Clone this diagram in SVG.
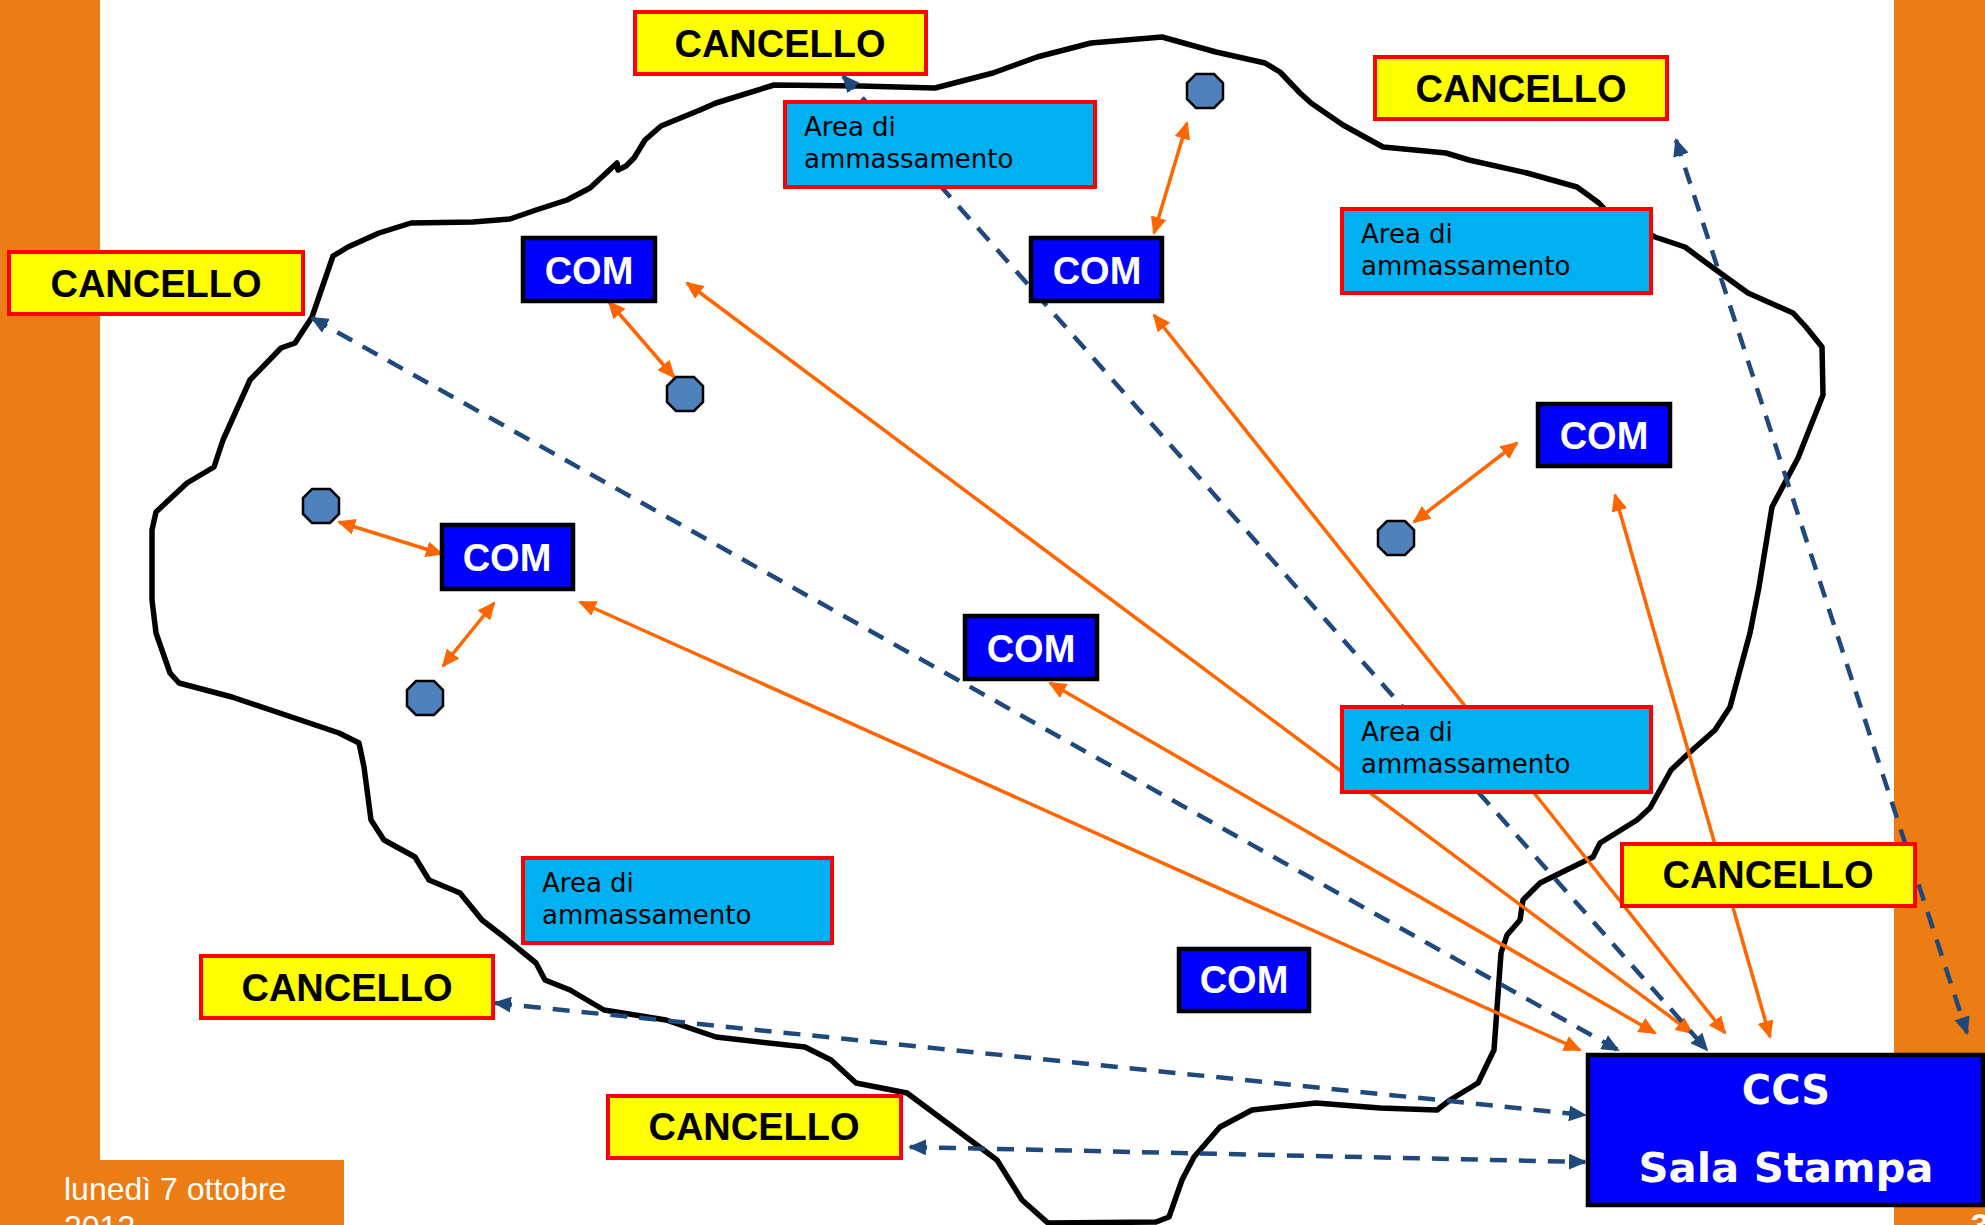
<svg xmlns="http://www.w3.org/2000/svg" width="1985" height="1225" viewBox="0 0 1985 1225">
<style>
.bar{fill:#EC7D15}
.blob{fill:none;stroke:#000;stroke-width:5.5;stroke-linejoin:round;stroke-linecap:round}
.or{fill:none;stroke:#FF6600;stroke-width:3.5;marker-start:url(#ao);marker-end:url(#ao)}
.bl{fill:none;stroke:#1F497D;stroke-width:4.5;stroke-dasharray:17 12;marker-start:url(#ab);marker-end:url(#ab)}
.gate rect{fill:#FFFF00;stroke:#FF0000;stroke-width:4}
.gate text{font-family:"Liberation Sans",Arial,sans-serif;font-weight:bold;font-size:38px;fill:#000;text-anchor:middle}
.com rect{fill:#0000FF;stroke:#000;stroke-width:4.5}
.com text{font-family:"Liberation Sans",Arial,sans-serif;font-weight:bold;font-size:38px;fill:#fff;text-anchor:middle}
.area rect{fill:#00B0F0;stroke:#FF0000;stroke-width:4}
.area text{font-family:"DejaVu Sans",Verdana,sans-serif;font-size:26px;fill:#000}
.oct{fill:#4F81BD;stroke:#000;stroke-width:2.5}
.ccs text{font-family:"DejaVu Sans",Verdana,sans-serif;font-weight:bold;font-size:40px;fill:#fff;text-anchor:middle}
.foot{font-family:"Liberation Sans",Arial,sans-serif;font-size:32px;fill:#fff}
</style>
<defs>
<marker id="ao" viewBox="0 0 18 16" refX="16" refY="8" markerWidth="18" markerHeight="16" markerUnits="userSpaceOnUse" orient="auto-start-reverse"><path d="M0,0 L18,8 L0,16 z" fill="#FF6600"/></marker>
<marker id="ab" viewBox="0 0 18 16" refX="16" refY="8" markerWidth="18" markerHeight="16" markerUnits="userSpaceOnUse" orient="auto-start-reverse"><path d="M0,0 L18,8 L0,16 z" fill="#1F497D"/></marker>
<polygon id="octa" points="-9,-17 9,-17 18,-8 18,8 9,17 -9,17 -18,8 -18,-8"/>
</defs>
<rect width="1985" height="1225" fill="#fff"/>
<g id="background">
<rect class="bar" x="0" y="0" width="100" height="1225"/>
<rect class="bar" x="0" y="1160" width="344" height="65"/>
<rect class="bar" x="1894" y="0" width="91" height="1225"/>
<text class="foot" x="64" y="1200">lunedì 7 ottobre</text>
<text class="foot" x="64" y="1238">2013</text>
<text class="foot" x="1971" y="1236" font-weight="bold">3</text>
</g>
<g id="area-outline">
<polygon class="blob" points="333,256 348,247 379,233 411,223 473,222 510,219 536,210 567,200 590,188 617,163 618,170 626,166 634,158 645,140 661,126 700,110 716,103 774,85 860,86 935,88 993,73 1037,57 1091,43 1162,37 1216,52 1265,63 1280,72 1300,93 1311,103 1343,125 1383,147 1446,153 1469,160 1527,173 1577,187 1599,203 1610,215 1655,237 1685,247 1712,267 1748,293 1793,313 1806,327 1822,347 1823,395 1798,458 1772,507 1759,587 1750,633 1730,707 1715,730 1689,753 1671,770 1650,808 1637,820 1600,843 1593,857 1540,883 1523,900 1520,920 1507,935 1501,953 1494,1050 1478,1083 1450,1100 1437,1110 1380,1108 1316,1103 1252,1110 1220,1127 1194,1157 1182,1180 1169,1217 1156,1222 1048,1223 1022,1200 997,1160 907,1093 856,1083 831,1060 805,1047 716,1037 666,1020 604,1010 570,990 545,980 536,963 504,937 482,920 460,893 429,880 415,857 384,840 371,820 364,767 359,743 339,733 232,697 179,683 170,673 156,633 152,600 152,530 156,512 187,483 214,467 223,440 232,420 250,380 281,348 295,343 312,317"/>
</g>
<g id="connectors">
<line class="or" x1="609" y1="302" x2="674" y2="377"/>
<line class="or" x1="1154" y1="233" x2="1187" y2="123"/>
<line class="or" x1="339" y1="522" x2="442" y2="554"/>
<line class="or" x1="494" y1="603" x2="443" y2="666"/>
<line class="or" x1="1414" y1="522" x2="1517" y2="443"/>
<line class="or" x1="580" y1="602" x2="1580" y2="1050"/>
<line class="or" x1="1050" y1="683" x2="1655" y2="1033"/>
<line class="or" x1="687" y1="283" x2="1692" y2="1033"/>
<line class="or" x1="1154" y1="315" x2="1725" y2="1033"/>
<line class="or" x1="1615" y1="495" x2="1770" y2="1037"/>
<line class="bl" x1="312" y1="318" x2="1618" y2="1050"/>
<line class="bl" x1="843" y1="76" x2="1707" y2="1050"/>
<line class="bl" x1="1676" y1="140" x2="1967" y2="1033"/>
<line class="bl" x1="495" y1="1003" x2="1585" y2="1115"/>
<line class="bl" x1="910" y1="1147" x2="1585" y2="1162"/>
</g>
<g id="oct1" class="oct"><use href="#octa" x="1205" y="91"/></g>
<g id="oct2" class="oct"><use href="#octa" x="685" y="394"/></g>
<g id="oct3" class="oct"><use href="#octa" x="321" y="506"/></g>
<g id="oct4" class="oct"><use href="#octa" x="425" y="698"/></g>
<g id="oct5" class="oct"><use href="#octa" x="1396" y="538"/></g>
<g id="area1" class="area"><rect x="785" y="102" width="310" height="85"/><text x="804" y="136">Area di</text><text x="804" y="168">ammassamento</text></g>
<g id="area2" class="area"><rect x="1342" y="209" width="309" height="84"/><text x="1361" y="243">Area di</text><text x="1361" y="275">ammassamento</text></g>
<g id="area3" class="area"><rect x="1342" y="707" width="309" height="85"/><text x="1361" y="741">Area di</text><text x="1361" y="773">ammassamento</text></g>
<g id="area4" class="area"><rect x="523" y="858" width="309" height="85"/><text x="542" y="892">Area di</text><text x="542" y="924">ammassamento</text></g>
<g id="gate1" class="gate"><rect x="635" y="12" width="291" height="62"/><text x="780" y="57">CANCELLO</text></g>
<g id="gate2" class="gate"><rect x="9" y="252" width="294" height="62"/><text x="156" y="297">CANCELLO</text></g>
<g id="gate3" class="gate"><rect x="1375" y="57" width="292" height="62"/><text x="1521" y="102">CANCELLO</text></g>
<g id="gate4" class="gate"><rect x="201" y="956" width="292" height="62"/><text x="347" y="1001">CANCELLO</text></g>
<g id="gate5" class="gate"><rect x="608" y="1096" width="293" height="62"/><text x="754" y="1140">CANCELLO</text></g>
<g id="gate6" class="gate"><rect x="1622" y="844" width="293" height="62"/><text x="1768" y="888">CANCELLO</text></g>
<g id="com1" class="com"><rect x="523" y="238" width="132" height="63"/><text x="589" y="284">COM</text></g>
<g id="com2" class="com"><rect x="1031" y="238" width="131" height="63"/><text x="1097" y="284">COM</text></g>
<g id="com3" class="com"><rect x="1538" y="404" width="132" height="62"/><text x="1604" y="449">COM</text></g>
<g id="com4" class="com"><rect x="442" y="525" width="131" height="64"/><text x="507" y="571">COM</text></g>
<g id="com5" class="com"><rect x="965" y="616" width="132" height="63"/><text x="1031" y="662">COM</text></g>
<g id="com6" class="com"><rect x="1179" y="949" width="130" height="62"/><text x="1244" y="993">COM</text></g>
<g id="ccs" class="ccs"><rect x="1588" y="1055" width="395" height="150" fill="#0000FF" stroke="#000" stroke-width="4.5"/><text x="1786" y="1104">CCS</text><text x="1786" y="1182" textLength="295" lengthAdjust="spacingAndGlyphs">Sala Stampa</text></g>
</svg>
